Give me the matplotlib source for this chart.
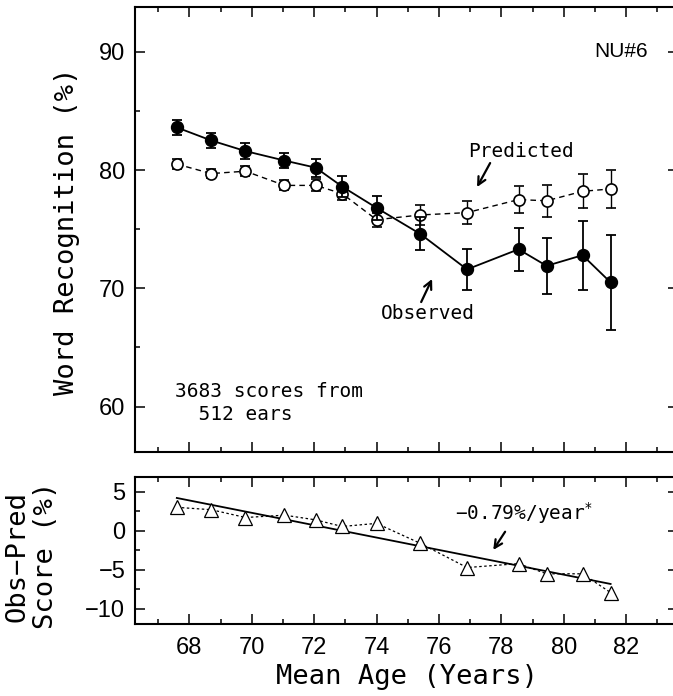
import matplotlib
matplotlib.use('Agg')
import matplotlib.pyplot as plt
from matplotlib.ticker import MultipleLocator

# ---- data ----
age = [67.6, 68.7, 69.8, 71.05, 72.05, 72.9, 74.0, 75.4, 76.9, 78.55, 79.45, 80.6, 81.5]
observed = [83.6, 82.5, 81.6, 80.8, 80.2, 78.6, 76.8, 74.6, 71.6, 73.3, 71.9, 72.8, 70.5]
observed_err = [0.65, 0.6, 0.7, 0.67, 0.75, 0.9, 1.0, 1.4, 1.75, 1.8, 2.35, 2.9, 4.0]
predicted = [80.5, 79.7, 79.9, 78.7, 78.7, 78.0, 75.8, 76.2, 76.4, 77.5, 77.4, 78.2, 78.4]
predicted_err = [0.43, 0.4, 0.42, 0.42, 0.5, 0.5, 0.6, 0.85, 0.95, 1.17, 1.37, 1.43, 1.63]
obs_minus_pred = [3.0, 2.7, 1.7, 2.0, 1.4, 0.55, 0.95, -1.6, -4.7, -4.2, -5.5, -5.5, -7.9]
trend_age = [67.6, 81.5]
trend_value = [4.2, -6.8]

x_ticks = [68, 70, 72, 74, 76, 78, 80, 82]
top_yticks = [60, 70, 80, 90]
bot_yticks = [5, 0, -5, -10]

plt.rcParams['font.family'] = ['Liberation Sans', 'DejaVu Sans']
plt.rcParams['mathtext.fontset'] = 'dejavusans'
MONO = ['DejaVu Sans Mono', 'DejaVu Sans']

W, H = 673, 696
fig = plt.figure(figsize=(W / 100, H / 100), dpi=100)

def px_axes(left, top, right, bottom):
    return fig.add_axes([left / W, 1 - bottom / H, (right - left) / W, (bottom - top) / H])

ax1 = px_axes(135, 7, 678, 451.7)
ax2 = px_axes(135, 476.7, 678, 624.3)

for ax in (ax1, ax2):
    ax.set_xlim(66.26, 83.66)
    ax.set_xticks(x_ticks)
    ax.xaxis.set_minor_locator(MultipleLocator(1))
    ax.tick_params(which='both', direction='in', top=True, right=True,
                   labelsize=17, width=1.1, pad=7)
    ax.tick_params(which='major', length=7.2)
    ax.tick_params(which='minor', length=3.6)
    for s in ax.spines.values():
        s.set_linewidth(1.5)

# ---- top panel ----
ax1.set_ylim(56.19, 93.78)
ax1.set_yticks(top_yticks)
ax1.yaxis.set_minor_locator(MultipleLocator(5))
ax1.tick_params(axis='x', labelbottom=False)

ax1.errorbar(age, predicted, yerr=predicted_err, fmt='o', ms=8, mfc='white',
             mec='black', mew=1.2, ecolor='black', elinewidth=1.0, capsize=3.6,
             capthick=1.0, ls=(0, (4, 3)), color='black', lw=1.0, zorder=3)
ax1.errorbar(age, observed, yerr=observed_err, fmt='o', ms=8.6, mfc='black',
             mec='black', ecolor='black', elinewidth=1.3, capsize=3.6,
             capthick=1.3, ls='-', color='black', lw=1.3, zorder=4)

ax1.text(81.85, 90.0, 'NU#6', fontsize=15, ha='center', va='center')
ax1.text(78.62, 81.6, 'Predicted', family=MONO, fontsize=14, ha='center', va='center')
ax1.annotate('', xy=(77.22, 78.56), xytext=(77.64, 80.59),
             arrowprops=dict(arrowstyle='->', lw=1.6, color='black', mutation_scale=14,
                             shrinkA=0, shrinkB=0))
ax1.text(75.65, 67.9, 'Observed', family=MONO, fontsize=14, ha='center', va='center')
ax1.annotate('', xy=(75.78, 70.79), xytext=(75.43, 68.84),
             arrowprops=dict(arrowstyle='->', lw=1.6, color='black', mutation_scale=14,
                             shrinkA=0, shrinkB=0))
ax1.text(67.54, 60.81, '3683 scores from', family=MONO, fontsize=14, ha='left', va='baseline')
ax1.text(67.54, 58.87, '  512 ears', family=MONO, fontsize=14, ha='left', va='baseline')

# ---- bottom panel ----
ax2.set_ylim(-11.96, 6.92)
ax2.set_yticks(bot_yticks)
ax2.yaxis.set_minor_locator(MultipleLocator(2.5))
ax2.tick_params(axis='x', pad=9)

ax2.plot(trend_age, trend_value, '-', color='black', lw=1.3, zorder=2)
ax2.plot(age, obs_minus_pred, marker='^', ms=10, mfc='white', mec='black', mew=0.9,
         ls=(0, (2, 2)), color='black', lw=0.9, zorder=3)

ax2.text(76.52, 1.4, '\u22120.79%/year$^{*}$', family=MONO, fontsize=14,
         ha='left', va='baseline')
ax2.annotate('', xy=(77.74, -2.45), xytext=(78.12, -0.12),
             arrowprops=dict(arrowstyle='->', lw=1.6, color='black', mutation_scale=14,
                             shrinkA=0, shrinkB=0))

# ---- axis labels ----
fig.text(67 / W, 1 - 231 / H, 'Word Recognition (%)', family=MONO, fontsize=19.5,
         rotation=90, ha='center', va='center')
fig.text(407.5 / W, 1 - 676.5 / H, 'Mean Age (Years)', family=MONO, fontsize=19.5,
         ha='center', va='center')
fig.text(17.5 / W, 1 - 556 / H, 'Obs\u2212Pred', family=MONO, fontsize=19.5,
         rotation=90, ha='center', va='center')
fig.text(46 / W, 1 - 555 / H, 'Score (%)', family=MONO, fontsize=19.5,
         rotation=90, ha='center', va='center')

fig.savefig('out.png', dpi=100)
